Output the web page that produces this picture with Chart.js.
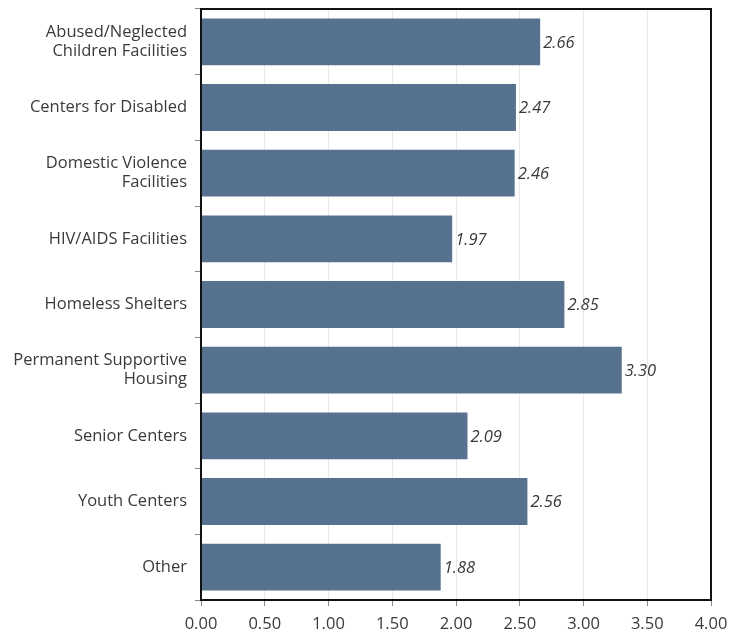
<!DOCTYPE html>
<html><head><meta charset="utf-8">
<script src="https://cdn.jsdelivr.net/npm/chart.js@4"></script>
<style>html,body{margin:0;padding:0;background:#fff}#wrap{width:731px;height:635px}</style>
</head><body><div id="wrap"><canvas id="c" width="731" height="635"></canvas></div>
<script>
const categories = [
  ["Abused/Neglected", "Children Facilities"],
  "Centers for Disabled",
  ["Domestic Violence", "Facilities"],
  "HIV/AIDS Facilities",
  "Homeless Shelters",
  ["Permanent Supportive", "Housing"],
  "Senior Centers",
  "Youth Centers",
  "Other"
];
const values = [2.66, 2.47, 2.46, 1.97, 2.85, 3.30, 2.09, 2.56, 1.88];
const xTicks = [0, 0.5, 1, 1.5, 2, 2.5, 3, 3.5, 4];

const FONT = "'Open Sans', Lato, sans-serif";

const valueLabels = {
  id: 'valueLabels',
  afterDatasetsDraw(chart) {
    const ctx = chart.ctx;
    const meta = chart.getDatasetMeta(0);
    ctx.save();
    ctx.font = "italic 16.5px " + FONT;
    ctx.fillStyle = '#3a3a3a';
    ctx.textBaseline = 'middle';
    ctx.textAlign = 'left';
    meta.data.forEach((bar, i) => {
      ctx.fillText(values[i].toFixed(2), bar.x + 3, bar.y + 1);
    });
    ctx.restore();
  }
};
const frame = {
  id: 'frame',
  afterDraw(chart) {
    const a = chart.chartArea, ctx = chart.ctx;
    ctx.save();
    ctx.strokeStyle = '#111';
    ctx.lineWidth = 2;
    ctx.strokeRect(a.left, a.top, a.right - a.left, a.bottom - a.top);
    ctx.restore();
  }
};

new Chart(document.getElementById('c'), {
  type: 'bar',
  data: {
    labels: categories,
    datasets: [{
      data: values,
      backgroundColor: '#56728f',
      borderWidth: 0,
      barPercentage: 0.8,
      categoryPercentage: 0.89
    }]
  },
  options: {
    indexAxis: 'y',
    responsive: false,
    animation: false,
    layout: { padding: { top: 9, right: 20, left: 0, bottom: 0 } },
    plugins: { legend: { display: false }, tooltip: { enabled: false } },
    scales: {
      x: {
        min: 0, max: 4,
        afterBuildTicks(scale) { scale.ticks = xTicks.map(v => ({ value: v })); },
        afterFit(scale) { scale.height = 35; scale.paddingLeft = 0; scale.paddingRight = 0; },
        grid: { color: '#e8e8e8', tickColor: '#888', tickLength: 6, lineWidth: 1 },
        border: { display: false },
        ticks: {
          font: { family: FONT, size: 16.5 },
          color: '#3a3a3a',
          padding: 8,
          maxRotation: 0,
          callback: v => Number(v).toFixed(2)
        }
      },
      y: {
        afterFit(scale) { scale.width = 201; scale.paddingTop = 0; scale.paddingBottom = 0; },
        grid: { drawOnChartArea: false, tickColor: '#888', tickLength: 6, offset: true },
        border: { display: false },
        ticks: {
          font: { family: FONT, size: 16.5, lineHeight: 1.15 },
          color: '#3a3a3a',
          padding: 8
        }
      }
    }
  },
  plugins: [valueLabels, frame]
});
</script>
</body></html>
